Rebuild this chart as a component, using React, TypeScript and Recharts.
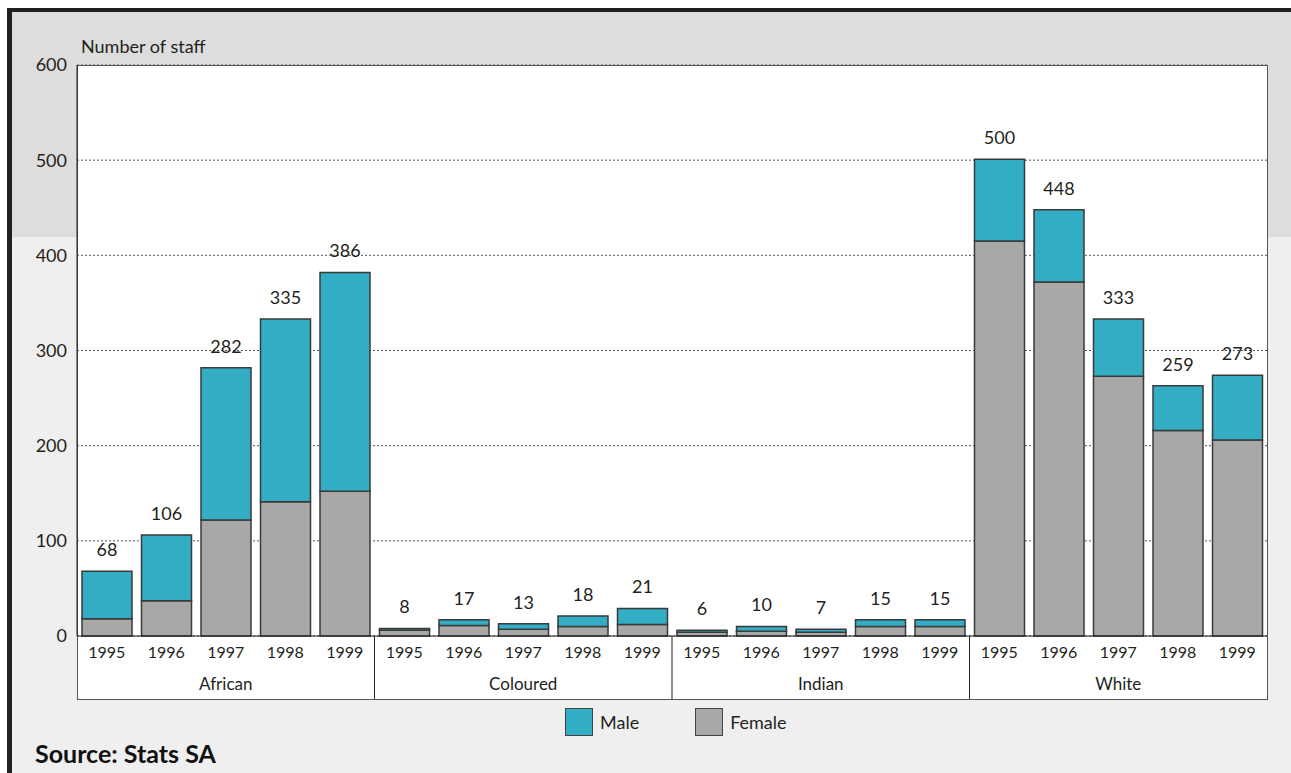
import { BarChart, Bar, XAxis, YAxis, CartesianGrid, Legend, LabelList } from "recharts";

const groups = ["African", "Coloured", "Indian", "White"];
const years = ["1995", "1996", "1997", "1998", "1999"];
// totals printed above each bar
const totalLabels = [68, 106, 282, 335, 386, 8, 17, 13, 18, 21, 6, 10, 7, 15, 15, 500, 448, 333, 259, 273];
const femaleValues = [18, 37, 122, 141, 152, 6, 11, 7, 10, 12, 4, 5, 4, 10, 10, 415, 372, 273, 216, 206];
const maleValues = [50, 69, 160, 192, 230, 2, 6, 6, 11, 17, 2, 5, 3, 7, 7, 86, 76, 60, 47, 68];
const yTicks = [0, 100, 200, 300, 400, 500, 600];

const data = groups.flatMap((g, gi) =>
  years.map((y, yi) => {
    const i = gi * years.length + yi;
    return { key: `${g} ${y}`, Female: femaleValues[i], Male: maleValues[i], label: totalLabels[i] };
  })
);

const FONT = "Lato, 'Open Sans', sans-serif";
const INK = "#231f20";
const TEAL = "#33adc4";
const GREY = "#a9a8a6";
const PLOT_LEFT = 77;
const PLOT_RIGHT = 1267;
const BAND = (PLOT_RIGHT - PLOT_LEFT) / data.length;
const YEAR_AXIS_H = 30;
const GROUP_AXIS_H = 33;

// group names under the years, plus the separators between groups
const GroupTick = (props: any) => {
  const { x, y, payload } = props;
  const [group, year] = String(payload.value).split(" ");
  const yi = years.indexOf(year);
  const gi = groups.indexOf(group);
  const top = y - 8 - YEAR_AXIS_H;
  const bottom = y - 8 + GROUP_AXIS_H;
  return (
    <g>
      {yi === 0 && gi > 0 && (
        <line x1={x - BAND / 2} x2={x - BAND / 2} y1={top} y2={bottom} stroke={INK} strokeWidth={1} />
      )}
      {yi === 2 && (
        <text x={x} y={y} dy={16} textAnchor="middle" fontSize={17} fill={INK} fontFamily={FONT}>
          {group}
        </text>
      )}
    </g>
  );
};

const LegendContent = (props: any) => {
  const items = [...(props.payload || [])].reverse();
  return (
    <div style={{ display: "flex", alignItems: "center", fontFamily: FONT, fontSize: 18, color: INK }}>
      {items.map((it: any, i: number) => (
        <div key={it.value} style={{ display: "flex", alignItems: "center", marginLeft: i === 0 ? 0 : 56 }}>
          <div
            style={{
              width: 28,
              height: 28,
              boxSizing: "border-box",
              background: it.color,
              border: "1.5px solid #444",
            }}
          />
          <span style={{ marginLeft: 7 }}>{it.value}</span>
        </div>
      ))}
    </div>
  );
};

export default function App() {
  return (
    <div style={{ position: "absolute", left: 0, top: 0, width: 1291, height: 773, background: "#fff", overflow: "hidden" }}>
      <div style={{ position: "absolute", left: 8, top: 8, right: 0, height: 229, background: "#dddddd" }} />
      <div style={{ position: "absolute", left: 8, top: 237, right: 0, bottom: 0, background: "#efefef" }} />
      <div style={{ position: "absolute", left: 7, top: 8, right: 0, height: 4, background: INK }} />
      <div style={{ position: "absolute", left: 7, top: 8, width: 5, bottom: 0, background: INK }} />
      <div
        style={{
          position: "absolute",
          left: PLOT_LEFT,
          top: 65,
          width: PLOT_RIGHT - PLOT_LEFT + 1,
          height: 635,
          background: "#fff",
          border: "1px solid #555",
          boxSizing: "border-box",
        }}
      />
      <div style={{ position: "absolute", left: 81, top: 35, fontFamily: FONT, fontSize: 18, color: INK }}>
        Number of staff
      </div>
      <div
        style={{ position: "absolute", left: 35, top: 738, fontFamily: FONT, fontSize: 25, fontWeight: 700, color: "#111" }}
      >
        Source: Stats SA
      </div>
      <div style={{ position: "absolute", left: 0, top: 0 }}>
        <BarChart
          width={1291}
          height={773}
          data={data}
          margin={{ top: 65, right: 1291 - PLOT_RIGHT, left: PLOT_LEFT - 60, bottom: 773 - 636 - YEAR_AXIS_H - GROUP_AXIS_H }}
          barSize={50}
        >
          <CartesianGrid xAxisId={0} vertical={false} strokeDasharray="2 2" stroke="#555" />
          <XAxis
            xAxisId={0}
            dataKey="key"
            interval={0}
            tickLine={false}
            tickMargin={5}
            axisLine={{ stroke: INK }}
            height={YEAR_AXIS_H}
            tickFormatter={(v: string) => String(v).split(" ")[1]}
            tick={{ fontSize: 16, fill: INK, fontFamily: FONT }}
          />
          <XAxis
            xAxisId={1}
            dataKey="key"
            interval={0}
            tickLine={false}
            axisLine={false}
            height={GROUP_AXIS_H}
            tick={<GroupTick />}
          />
          <YAxis
            type="number"
            domain={[0, 600]}
            ticks={yTicks}
            interval={0}
            width={60}
            tickLine={false}
            tickMargin={4}
            axisLine={{ stroke: INK }}
            tick={{ fontSize: 18, fill: INK, fontFamily: FONT }}
          />
          <Legend
            verticalAlign="middle"
            align="center"
            content={<LegendContent />}
            wrapperStyle={{ top: 708, left: 565, width: "auto" }}
          />
          <Bar xAxisId={0} dataKey="Female" name="Female" stackId="s" fill={GREY} stroke="#3a3a3a" strokeWidth={1.5} isAnimationActive={false} />
          <Bar xAxisId={0} dataKey="Male" name="Male" stackId="s" fill={TEAL} stroke="#3a3a3a" strokeWidth={1.5} isAnimationActive={false}>
            <LabelList dataKey="label" position="top" offset={15} fontSize={18} fill={INK} fontFamily={FONT} />
          </Bar>
        </BarChart>
      </div>
    </div>
  );
}
